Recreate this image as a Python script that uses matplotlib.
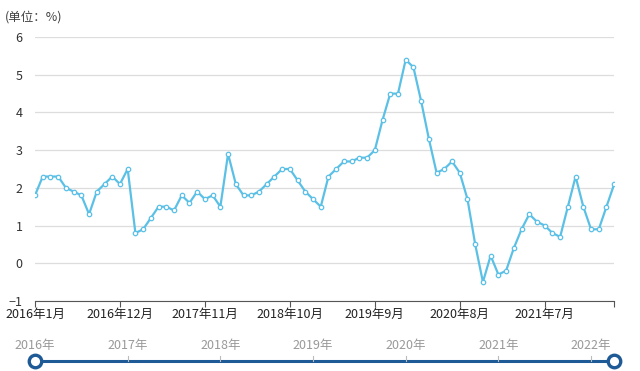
import numpy as np
import matplotlib
matplotlib.use("Agg")
import matplotlib.pyplot as plt

plt.rcParams['font.family'] = ['Noto Sans CJK SC', 'DejaVu Sans']

# monthly CPI yoy, 2016-01 .. 2022-04
cpi = [1.8, 2.3, 2.3, 2.3, 2.0, 1.9, 1.8, 1.3, 1.9, 2.1, 2.3, 2.1,
       2.5, 0.8, 0.9, 1.2, 1.5, 1.5, 1.4, 1.8, 1.6, 1.9, 1.7, 1.8,
       1.5, 2.9, 2.1, 1.8, 1.8, 1.9, 2.1, 2.3, 2.5, 2.5, 2.2, 1.9,
       1.7, 1.5, 2.3, 2.5, 2.7, 2.7, 2.8, 2.8, 3.0, 3.8, 4.5, 4.5,
       5.4, 5.2, 4.3, 3.3, 2.4, 2.5, 2.7, 2.4, 1.7, 0.5, -0.5, 0.2,
       -0.3, -0.2, 0.4, 0.9, 1.3, 1.1, 1.0, 0.8, 0.7, 1.5, 2.3, 1.5,
       0.9, 0.9, 1.5, 2.1]
month_ticks = [0, 11, 22, 33, 44, 55, 66]
month_labels = ['2016年1月', '2016年12月', '2017年11月', '2018年10月',
                '2019年9月', '2020年8月', '2021年7月']
year_ticks = [0, 12, 24, 36, 48, 60, 72]
year_labels = ['2016年', '2017年', '2018年', '2019年', '2020年', '2021年', '2022年']

x = np.arange(len(cpi))
n = len(cpi) - 1
L, W = 0.0547, 0.905

fig = plt.figure(figsize=(6.4, 3.71), dpi=100)
ax = fig.add_axes([L, 0.189, W, 0.711])
ax.plot(x, cpi, color='#5bc0e6', lw=1.6, marker='o', ms=3.2,
        mfc='white', mec='#5bc0e6', mew=0.9, zorder=3)
ax.set_xlim(0, n)
ax.set_ylim(-1, 6)
ax.set_yticks(range(-1, 7))
ax.grid(axis='y', color='#dddddd', lw=0.9)
ax.set_axisbelow(True)
for s in ['left', 'right', 'top']:
    ax.spines[s].set_visible(False)
ax.spines['bottom'].set_color('#555555')
ax.tick_params(axis='y', length=0, labelsize=9, colors='#333333', pad=9)
ax.set_xticks(month_ticks + [n])
ax.set_xticklabels(month_labels + [''])
ax.tick_params(axis='x', length=4, color='#555555', labelsize=9,
               labelcolor='#222222', pad=1)
fig.text(0.008, 0.955, '(单位：%)', fontsize=9, color='#444444', va='center')

# slider
sl = fig.add_axes([L, 0.0, W, 0.055])
sl.set_xlim(0, n)
sl.set_ylim(-1, 1)
sl.axis('off')
sl.plot([0, n], [0, 0], color='#1d5a96', lw=2.2, zorder=2)
sl.plot([0, n], [0, 0], ls='none', marker='o', ms=9, mfc='white',
        mec='#1d5a96', mew=2.4, zorder=3, clip_on=False)
for t, lab in zip(year_ticks, year_labels):
    if t > 0:
        sl.plot([t, t], [0, 0.45], color='#bbbbbb', lw=0.8)
    fig.text(L + W * t / n, 0.07, lab, ha='center', va='center',
             fontsize=9, color='#999999')

fig.savefig('out.png', dpi=100)
